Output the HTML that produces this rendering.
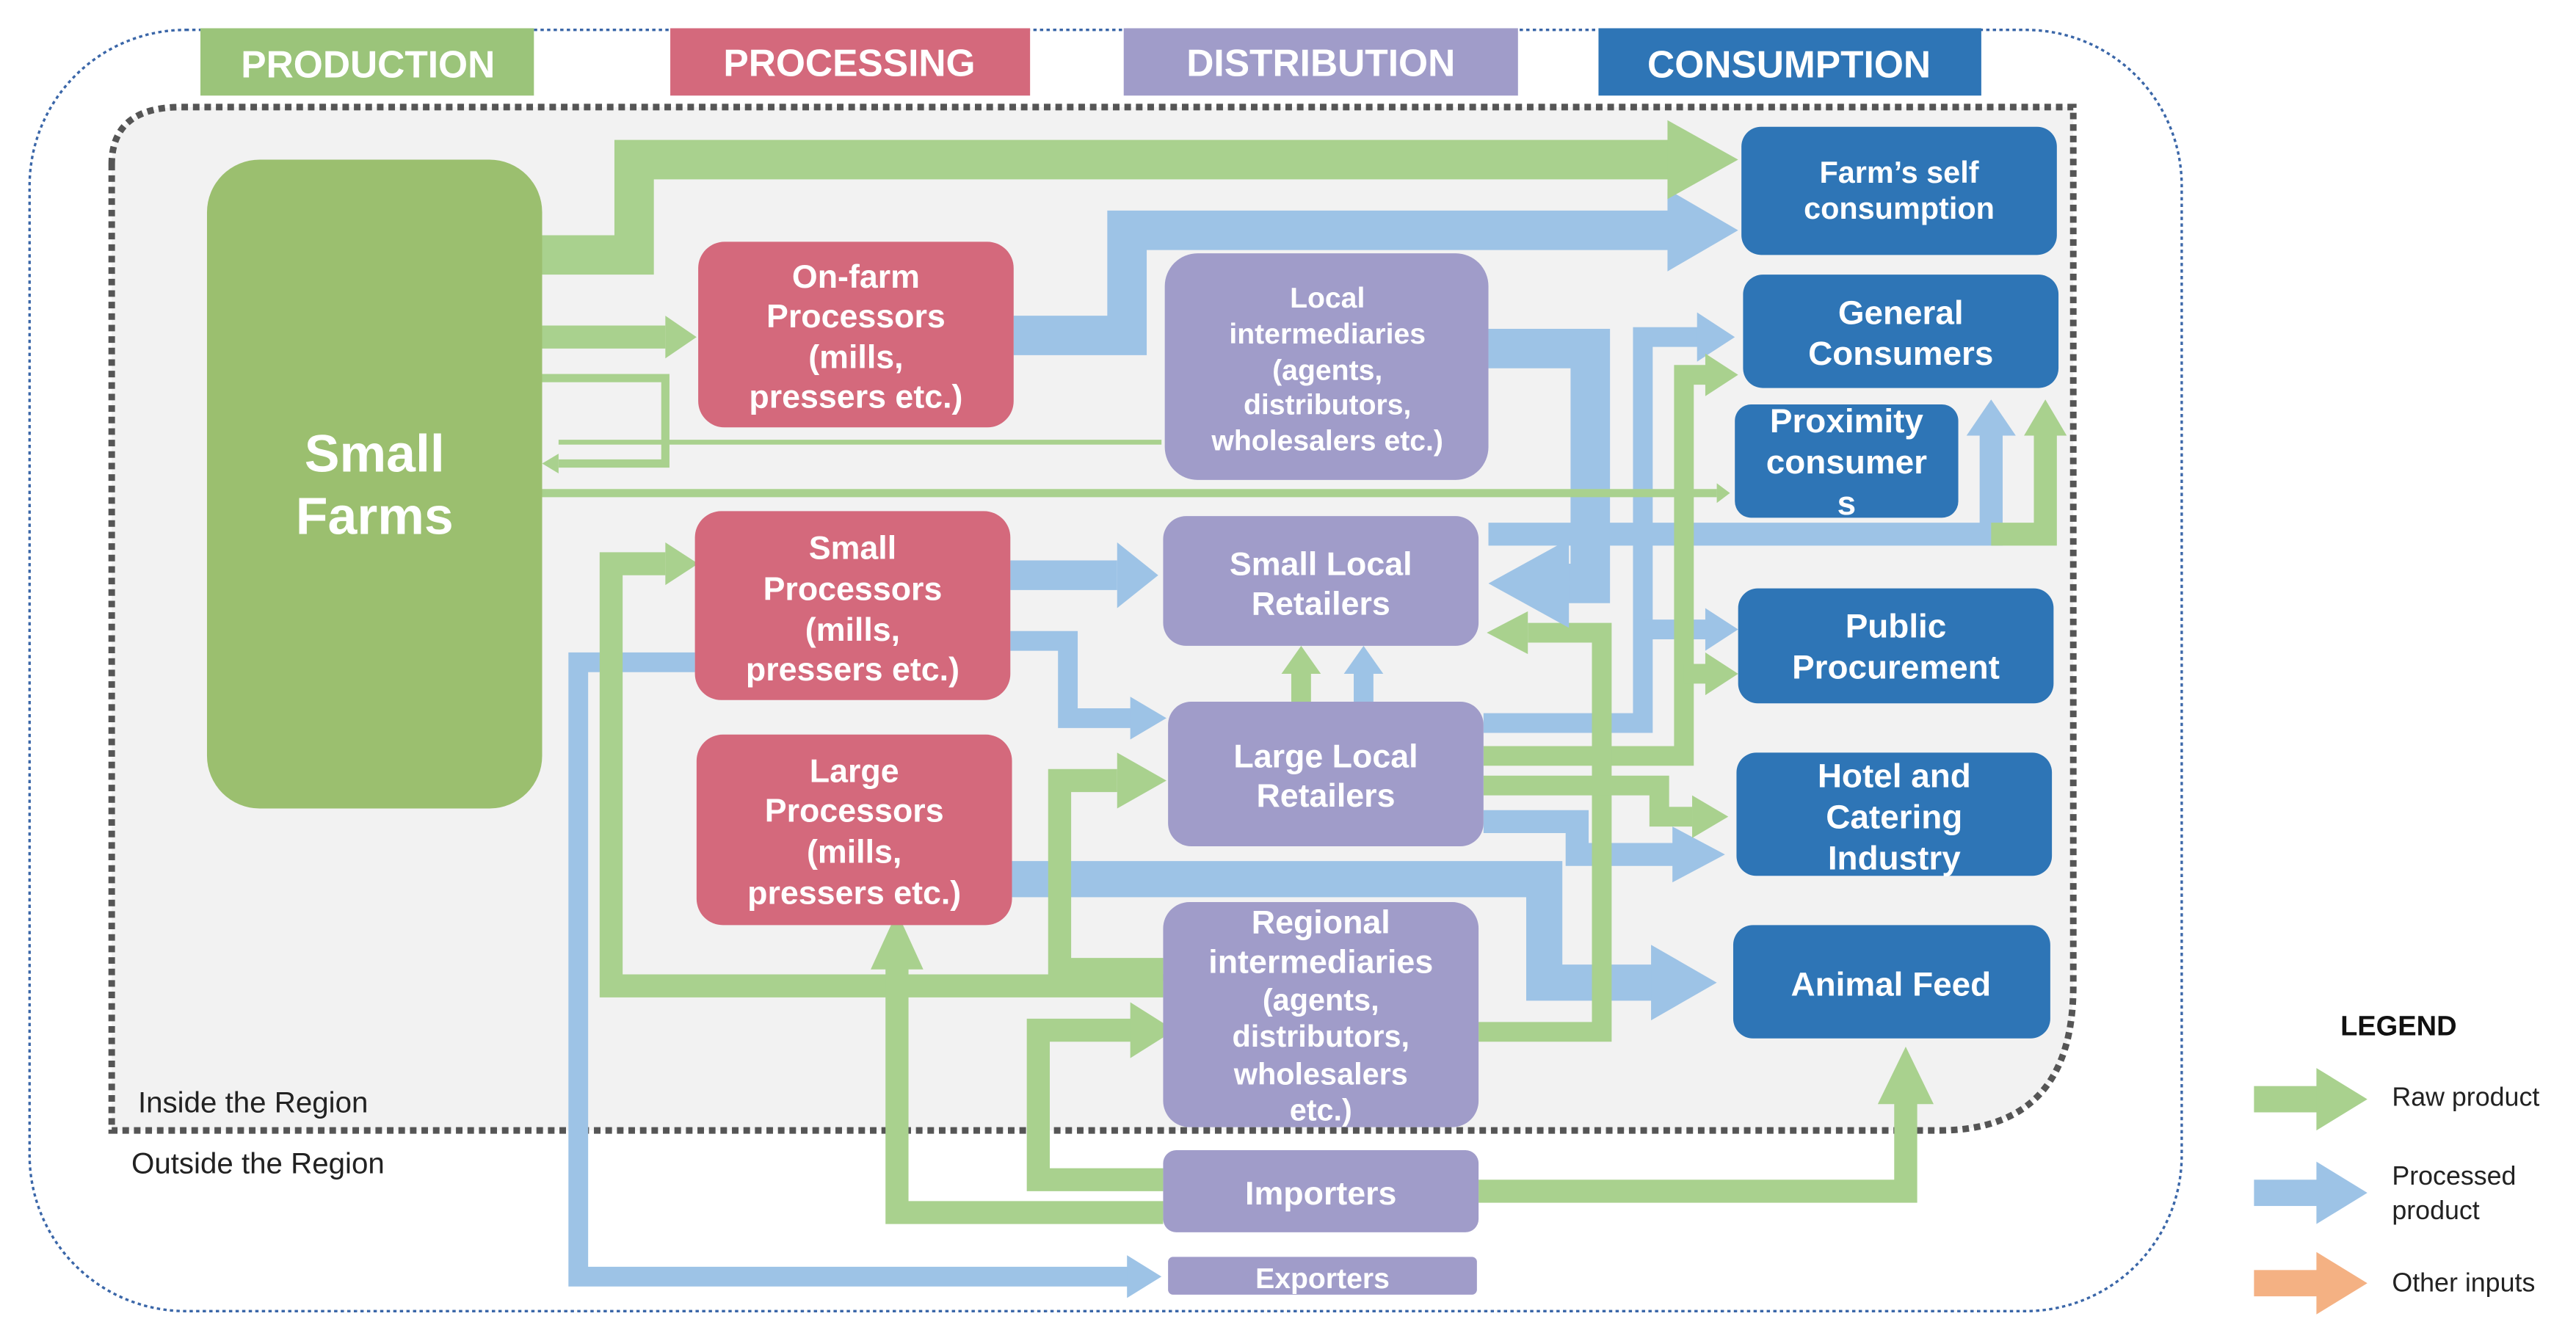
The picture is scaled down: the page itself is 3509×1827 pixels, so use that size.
<!DOCTYPE html>
<html><head><meta charset="utf-8"><style>
html,body{margin:0;padding:0;background:#fff;}
svg{display:block;}
text{font-family:"Liberation Sans",sans-serif;font-weight:bold;fill:#fff;text-anchor:middle;}
</style></head><body>
<svg width="3509" height="1827" viewBox="0 0 1568 816" xmlns="http://www.w3.org/2000/svg">
<rect x="18" y="18" width="1310" height="780" rx="95" fill="#fff" stroke="#3a66a8" stroke-width="1.5" stroke-dasharray="2,2"/>
<path d="M68 100 Q68 65 110 65 L1262 65 L1262 600 Q1262 688 1180 688 L68 688 Z" fill="#f2f2f2" stroke="#555" stroke-width="4" stroke-dasharray="4,3"/>
<rect x="122" y="17" width="203" height="41" fill="#9bc47a"/><text x="224" y="47" font-size="23">PRODUCTION</text>
<rect x="408" y="17" width="219" height="41" fill="#d4697c"/><text x="517" y="46" font-size="23">PROCESSING</text>
<rect x="684" y="17" width="240" height="41" fill="#a09cc9"/><text x="804" y="46" font-size="23">DISTRIBUTION</text>
<rect x="973" y="17" width="233" height="41" fill="#2e75b6"/><text x="1089" y="47" font-size="23">CONSUMPTION</text>

<g fill="none" stroke-linejoin="miter">
<!-- blue thick -->
<polyline points="617,204 686,204 686,140 1025,140" stroke="#9dc3e6" stroke-width="24"/>
<polyline points="906,212 968,212 968,355 945,355" stroke="#9dc3e6" stroke-width="24"/>
<polyline points="906,325 1212,325 1212,265" stroke="#9dc3e6" stroke-width="14"/>
<polyline points="903,440 1000,440 1000,205 1035,205" stroke="#9dc3e6" stroke-width="12"/>
<polyline points="1000,383 1040,383" stroke="#9dc3e6" stroke-width="12"/>
<polyline points="615,350 680,350" stroke="#9dc3e6" stroke-width="18"/>
<polyline points="615,390 650,390 650,437 690,437" stroke="#9dc3e6" stroke-width="12"/>
<polyline points="423,403 352,403 352,777 690,777" stroke="#9dc3e6" stroke-width="12"/>
<polyline points="830,427 830,410" stroke="#9dc3e6" stroke-width="12"/>
<polyline points="616,535 940,535 940,598 1010,598" stroke="#9dc3e6" stroke-width="22"/>
<polyline points="903,500 960,500 960,520 1020,520" stroke="#9dc3e6" stroke-width="14"/>
<!-- green -->
<polyline points="330,155 386,155 386,97 1020,97" stroke="#a9d18e" stroke-width="24"/>
<polyline points="330,205 405,205" stroke="#a9d18e" stroke-width="14"/>
<polyline points="330,230 405,230 405,282 340,282" stroke="#a9d18e" stroke-width="5"/>
<polyline points="707,269 340,269" stroke="#a9d18e" stroke-width="3"/>
<polyline points="330,300 1045,300" stroke="#a9d18e" stroke-width="5"/>
<polyline points="1212,325 1245,325 1245,265" stroke="#a9d18e" stroke-width="14"/>
<polyline points="903,460 1025,460 1025,228 1040,228" stroke="#a9d18e" stroke-width="12"/>
<polyline points="1025,410 1040,410" stroke="#a9d18e" stroke-width="12"/>
<polyline points="792,427 792,410" stroke="#a9d18e" stroke-width="12"/>
<polyline points="708,600 372,600 372,343 405,343" stroke="#a9d18e" stroke-width="14"/>
<polyline points="708,590 645,590 645,475 680,475" stroke="#a9d18e" stroke-width="14"/>
<polyline points="900,628 975,628 975,385 930,385" stroke="#a9d18e" stroke-width="12"/>
<polyline points="903,478 1010,478 1010,497 1030,497" stroke="#a9d18e" stroke-width="12"/>
<polyline points="708,718 632,718 632,627 690,627" stroke="#a9d18e" stroke-width="14"/>
<polyline points="708,738 546,738 546,585" stroke="#a9d18e" stroke-width="14"/>
<polyline points="900,725 1160,725 1160,670" stroke="#a9d18e" stroke-width="14"/>
</g>
<!-- arrowheads -->
<g fill="#9dc3e6">
<polygon points="1015,115 1058,140 1015,165"/>
<polygon points="955,328 906,355 955,382"/>
<polygon points="1197,265 1212,243 1227,265"/>
<polygon points="1033,190 1056,205 1033,220"/>
<polygon points="1038,370 1058,383 1038,396"/>
<polygon points="680,330 705,350 680,370"/>
<polygon points="688,424 710,437 688,450"/>
<polygon points="686,764 707,777 686,790"/>
<polygon points="818,410 830,393 842,410"/>
<polygon points="1005,575 1045,598 1005,621"/>
<polygon points="1018,503 1050,520 1018,537"/>
</g>
<g fill="#a9d18e">
<polygon points="1015,73 1058,97 1015,121"/>
<polygon points="405,192 424,205 405,218"/>
<polygon points="340,276 330,282 340,288"/>
<polygon points="1045,294 1053,300 1045,306"/>
<polygon points="1232,265 1245,243 1258,265"/>
<polygon points="1038,215 1058,228 1038,241"/>
<polygon points="1038,397 1058,410 1038,423"/>
<polygon points="780,410 792,393 804,410"/>
<polygon points="405,330 425,343 405,356"/>
<polygon points="680,458 710,475 680,492"/>
<polygon points="930,372 905,385 930,398"/>
<polygon points="1030,484 1052,497 1030,510"/>
<polygon points="688,610 715,627 688,644"/>
<polygon points="530,590 546,555 562,590"/>
<polygon points="1143,672 1160,637 1177,672"/>
</g>

<rect x="126" y="97" width="204" height="395" rx="32" fill="#9bbf6f"/>
<text x="228" y="287" font-size="32">Small</text><text x="228" y="325" font-size="32">Farms</text>
<g fill="#d4697c">
<rect x="425" y="147" width="192" height="113" rx="16"/>
<rect x="423" y="311" width="192" height="115" rx="16"/>
<rect x="424" y="447" width="192" height="116" rx="16"/>
</g>
<g font-size="20">
<text x="521" y="175">On-farm</text><text x="521" y="199">Processors</text><text x="521" y="224">(mills,</text><text x="521" y="248">pressers etc.)</text>
<text x="519" y="340">Small</text><text x="519" y="365">Processors</text><text x="519" y="390">(mills,</text><text x="519" y="414">pressers etc.)</text>
<text x="520" y="476">Large</text><text x="520" y="500">Processors</text><text x="520" y="525">(mills,</text><text x="520" y="550">pressers etc.)</text>
</g>
<g fill="#a09cc9">
<rect x="709" y="154" width="197" height="138" rx="20"/>
<rect x="708" y="314" width="192" height="79" rx="14"/>
<rect x="711" y="427" width="192" height="88" rx="14"/>
<rect x="708" y="549" width="192" height="137" rx="16"/>
<rect x="708" y="700" width="192" height="50" rx="8"/>
<rect x="711" y="765" width="188" height="23" rx="3"/>
</g>
<g font-size="17.5">
<text x="808" y="187">Local</text><text x="808" y="209">intermediaries</text><text x="808" y="231">(agents,</text><text x="808" y="252">distributors,</text><text x="808" y="274">wholesalers etc.)</text>
</g>
<g font-size="20">
<text x="804" y="350">Small Local</text><text x="804" y="374">Retailers</text>
<text x="807" y="467">Large Local</text><text x="807" y="491">Retailers</text>
<text x="804" y="568">Regional</text><text x="804" y="592">intermediaries</text>
</g>
<g font-size="18.5">
<text x="804" y="615">(agents,</text><text x="804" y="637">distributors,</text><text x="804" y="660">wholesalers</text><text x="804" y="682">etc.)</text>
</g>
<text x="804" y="733" font-size="20">Importers</text>
<text x="805" y="784" font-size="17.5">Exporters</text>
<g fill="#2e75b6">
<rect x="1060" y="77" width="192" height="78" rx="12"/>
<rect x="1061" y="167" width="192" height="69" rx="12"/>
<rect x="1056" y="246" width="136" height="69" rx="10"/>
<rect x="1058" y="358" width="192" height="70" rx="12"/>
<rect x="1057" y="458" width="192" height="75" rx="12"/>
<rect x="1055" y="563" width="193" height="69" rx="12"/>
</g>
<g font-size="18.5">
<text x="1156" y="111">Farm’s self</text><text x="1156" y="133">consumption</text>
</g>
<g font-size="20.5">
<text x="1157" y="197">General</text><text x="1157" y="222">Consumers</text>
<text x="1124" y="263">Proximity</text><text x="1124" y="288">consumer</text><text x="1124" y="313">s</text>
<text x="1154" y="388">Public</text><text x="1154" y="413">Procurement</text>
<text x="1153" y="479">Hotel and</text><text x="1153" y="504">Catering</text><text x="1153" y="529">Industry</text>
<text x="1151" y="606">Animal Feed</text>
</g>
<g style="font-weight:normal" font-size="18">
<text x="84" y="677" style="fill:#222;text-anchor:start;font-weight:normal">Inside the Region</text>
<text x="80" y="714" style="fill:#222;text-anchor:start;font-weight:normal">Outside the Region</text>
</g>
<text x="1460" y="630" font-size="17" style="fill:#111">LEGEND</text>
<g>
<rect x="1372" y="661" width="42" height="16" fill="#a9d18e"/><polygon points="1410,650 1441,669 1410,688" fill="#a9d18e"/>
<rect x="1372" y="718" width="42" height="16" fill="#9dc3e6"/><polygon points="1410,707 1441,726 1410,745" fill="#9dc3e6"/>
<rect x="1372" y="773" width="42" height="16" fill="#f4b183"/><polygon points="1410,762 1441,781 1410,800" fill="#f4b183"/>
</g>
<g font-size="16" style="fill:#222">
<text x="1456" y="673" style="fill:#222;text-anchor:start;font-weight:normal">Raw product</text>
<text x="1456" y="721" style="fill:#222;text-anchor:start;font-weight:normal">Processed</text>
<text x="1456" y="742" style="fill:#222;text-anchor:start;font-weight:normal">product</text>
<text x="1456" y="786" style="fill:#222;text-anchor:start;font-weight:normal">Other inputs</text>
</g>
</svg>
</body></html>
